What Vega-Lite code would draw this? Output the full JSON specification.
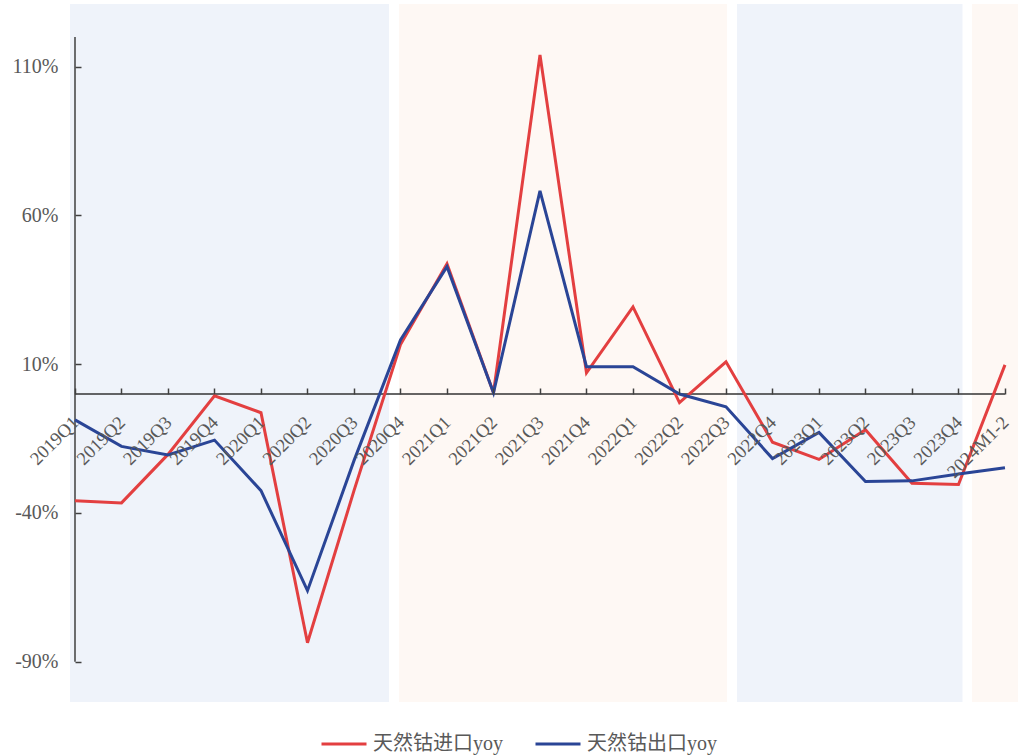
{
  "$schema": "https://vega.github.io/schema/vega-lite/v6.json",
  "width": 948,
  "height": 698,
  "autosize": {"type": "none"},
  "padding": {"left": 70, "top": 4, "right": 0, "bottom": 53},
  "background": "white",
  "config": {"view": {"stroke": null}},
  "datasets": {
    "bands": [
      {"x0": -0.1075, "x1": 6.753, "kind": "a"},
      {"x0": 6.968, "x1": 14.022, "kind": "b"},
      {"x0": 14.237, "x1": 19.086, "kind": "a"},
      {"x0": 19.29, "x1": 20.28, "kind": "b"}
    ],
    "lines": [
      {"i": 0, "period": "2019Q1", "series": "天然钴进口yoy", "value": -35.9},
      {"i": 1, "period": "2019Q2", "series": "天然钴进口yoy", "value": -36.6},
      {"i": 2, "period": "2019Q3", "series": "天然钴进口yoy", "value": -20.3},
      {"i": 3, "period": "2019Q4", "series": "天然钴进口yoy", "value": -0.6},
      {"i": 4, "period": "2020Q1", "series": "天然钴进口yoy", "value": -6.3},
      {"i": 5, "period": "2020Q2", "series": "天然钴进口yoy", "value": -83.6},
      {"i": 6, "period": "2020Q3", "series": "天然钴进口yoy", "value": -32.5},
      {"i": 7, "period": "2020Q4", "series": "天然钴进口yoy", "value": 16.6},
      {"i": 8, "period": "2021Q1", "series": "天然钴进口yoy", "value": 43.8},
      {"i": 9, "period": "2021Q2", "series": "天然钴进口yoy", "value": 0.4},
      {"i": 10, "period": "2021Q3", "series": "天然钴进口yoy", "value": 114},
      {"i": 11, "period": "2021Q4", "series": "天然钴进口yoy", "value": 7.1},
      {"i": 12, "period": "2022Q1", "series": "天然钴进口yoy", "value": 29.3},
      {"i": 13, "period": "2022Q2", "series": "天然钴进口yoy", "value": -2.9},
      {"i": 14, "period": "2022Q3", "series": "天然钴进口yoy", "value": 10.8},
      {"i": 15, "period": "2022Q4", "series": "天然钴进口yoy", "value": -16.2},
      {"i": 16, "period": "2023Q1", "series": "天然钴进口yoy", "value": -22.0},
      {"i": 17, "period": "2023Q2", "series": "天然钴进口yoy", "value": -12.0},
      {"i": 18, "period": "2023Q3", "series": "天然钴进口yoy", "value": -30.0},
      {"i": 19, "period": "2023Q4", "series": "天然钴进口yoy", "value": -30.4},
      {"i": 20, "period": "2024M1-2", "series": "天然钴进口yoy", "value": 9.8},
      {"i": 0, "period": "2019Q1", "series": "天然钴出口yoy", "value": -8.7},
      {"i": 1, "period": "2019Q2", "series": "天然钴出口yoy", "value": -17.6},
      {"i": 2, "period": "2019Q3", "series": "天然钴出口yoy", "value": -20.5},
      {"i": 3, "period": "2019Q4", "series": "天然钴出口yoy", "value": -15.5},
      {"i": 4, "period": "2020Q1", "series": "天然钴出口yoy", "value": -32.5},
      {"i": 5, "period": "2020Q2", "series": "天然钴出口yoy", "value": -66.1},
      {"i": 6, "period": "2020Q3", "series": "天然钴出口yoy", "value": -22.4},
      {"i": 7, "period": "2020Q4", "series": "天然钴出口yoy", "value": 18.2},
      {"i": 8, "period": "2021Q1", "series": "天然钴出口yoy", "value": 42.8},
      {"i": 9, "period": "2021Q2", "series": "天然钴出口yoy", "value": 0.4},
      {"i": 10, "period": "2021Q3", "series": "天然钴出口yoy", "value": 68.3},
      {"i": 11, "period": "2021Q4", "series": "天然钴出口yoy", "value": 9.2},
      {"i": 12, "period": "2022Q1", "series": "天然钴出口yoy", "value": 9.2},
      {"i": 13, "period": "2022Q2", "series": "天然钴出口yoy", "value": 0.0},
      {"i": 14, "period": "2022Q3", "series": "天然钴出口yoy", "value": -4.3},
      {"i": 15, "period": "2022Q4", "series": "天然钴出口yoy", "value": -21.7},
      {"i": 16, "period": "2023Q1", "series": "天然钴出口yoy", "value": -12.9},
      {"i": 17, "period": "2023Q2", "series": "天然钴出口yoy", "value": -29.4},
      {"i": 18, "period": "2023Q3", "series": "天然钴出口yoy", "value": -29.2},
      {"i": 19, "period": "2023Q4", "series": "天然钴出口yoy", "value": -26.9},
      {"i": 20, "period": "2024M1-2", "series": "天然钴出口yoy", "value": -24.8}
    ]
  },
  "layer": [
    {
      "data": {"name": "bands"},
      "mark": {"type": "rect"},
      "encoding": {
        "x": {"field": "x0", "type": "quantitative", "scale": {"domain": [-0.1075, 20.28], "nice": false, "zero": false},
          "axis": {"orient": "bottom", "offset": -308, "values": [0,1,2,3,4,5,6,7,8,9,10,11,12,13,14,15,16,17,18,19,20],
            "labelExpr": "['2019Q1','2019Q2','2019Q3','2019Q4','2020Q1','2020Q2','2020Q3','2020Q4','2021Q1','2021Q2','2021Q3','2021Q4','2022Q1','2022Q2','2022Q3','2022Q4','2023Q1','2023Q2','2023Q3','2023Q4','2024M1-2'][datum.value]",
            "domain": false, "grid": false, "ticks": true, "tickSize": -6, "tickColor": "#404040", "tickWidth": 1.5,
            "labelAngle": -45, "labelAlign": "right", "labelBaseline": "middle", "labelPadding": 31,
            "labelFont": "Liberation Serif", "labelFontSize": 18.5, "labelColor": "#595959",
            "labelOverlap": false, "labelBound": false, "labelFlush": false, "title": null, "zindex": 1}},
        "x2": {"field": "x1"},
        "fill": {"field": "kind", "type": "nominal", "scale": {"domain": ["a", "b"], "range": ["#EFF3FA", "#FEF8F4"]}, "legend": null}
      }
    },
    {
      "data": {"values": [{"x0": 0, "x1": 20, "y0": 0}]},
      "mark": {"type": "rule", "color": "#333333", "strokeWidth": 1.5},
      "encoding": {
        "x": {"field": "x0", "type": "quantitative"},
        "x2": {"field": "x1"},
        "y": {"field": "y0", "type": "quantitative"}
      }
    },
    {
      "data": {"values": [{"x0": 0, "y0": -90, "y1": 120}]},
      "mark": {"type": "rule", "color": "#404040", "strokeWidth": 1.5},
      "encoding": {
        "x": {"field": "x0", "type": "quantitative"},
        "y": {"field": "y0", "type": "quantitative"},
        "y2": {"field": "y1"}
      }
    },
    {
      "data": {"name": "lines"},
      "transform": [{"filter": "datum.series === '天然钴进口yoy'"}],
      "mark": {"type": "line", "strokeWidth": 3},
      "encoding": {
        "x": {"field": "i", "type": "quantitative"},
        "y": {"field": "value", "type": "quantitative"},
        "color": {"field": "series", "type": "nominal"}
      }
    },
    {
      "data": {"name": "lines"},
      "transform": [{"filter": "datum.series === '天然钴出口yoy'"}],
      "mark": {"type": "line", "strokeWidth": 3},
      "encoding": {
        "x": {"field": "i", "type": "quantitative"},
        "y": {"field": "value", "type": "quantitative",
          "scale": {"domain": [-103.53, 131.09], "nice": false, "zero": false},
          "axis": {"orient": "left", "offset": -5, "values": [-90, -40, 10, 60, 110], "labelExpr": "datum.value + '%'",
            "domain": false, "grid": false, "tickSize": -6, "tickColor": "#404040", "tickWidth": 1.5,
            "labelPadding": 23, "labelFont": "Liberation Serif", "labelFontSize": 20, "labelColor": "#595959",
            "labelBound": false, "labelFlush": false, "labelOverlap": false, "title": null, "zindex": 1}},
        "color": {"field": "series", "type": "nominal",
          "scale": {"domain": ["天然钴进口yoy", "天然钴出口yoy"], "range": ["#E33F40", "#2A4596"]},
          "legend": {"orient": "none", "legendX": 250, "legendY": 716, "direction": "horizontal", "title": null,
            "symbolType": "stroke", "symbolSize": 2025, "symbolStrokeWidth": 3,
            "labelFont": "Liberation Serif, Noto Sans CJK SC", "labelFontSize": 20, "labelColor": "#595959",
            "labelOffset": 5, "columnPadding": 26, "padding": 0}}
      }
    }
  ]
}
